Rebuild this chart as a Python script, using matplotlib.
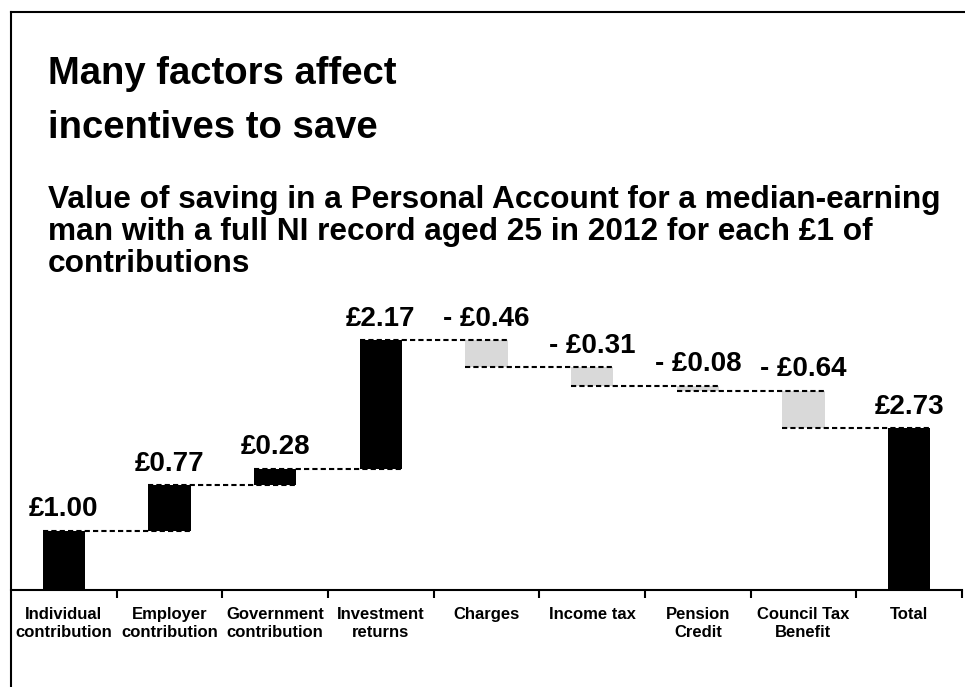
import matplotlib
matplotlib.use("Agg")
import matplotlib.pyplot as plt
from matplotlib.lines import Line2D

plt.rcParams['font.family'] = ['Liberation Sans', 'DejaVu Sans']
plt.rcParams['font.weight'] = 'bold'

# Waterfall components (GBP per £1 contributed)
categories = ["Individual\ncontribution", "Employer\ncontribution", "Government\ncontribution",
              "Investment\nreturns", "Charges", "Income tax", "Pension\nCredit",
              "Council Tax\nBenefit", "Total"]
changes = [1.00, 0.77, 0.28, 2.17, -0.46, -0.31, -0.08, -0.64]
total = 2.73
labels = ["£1.00", "£0.77", "£0.28", "£2.17", "- £0.46", "- £0.31", "- £0.08", "- £0.64", "£2.73"]

title_lines = ["Many factors affect", "incentives to save"]
subtitle_lines = ["Value of saving in a Personal Account for a median-earning",
                  "man with a full NI record aged 25 in 2012 for each £1 of",
                  "contributions"]

W, H = 965, 687
fig = plt.figure(figsize=(W / 100, H / 100), dpi=100)

# slide frame (top and left edges only)
fig.add_artist(Line2D([11 / W, 1], [1 - 12 / H, 1 - 12 / H], color='black', lw=1.5))
fig.add_artist(Line2D([11 / W, 11 / W], [0, 1 - 12 / H], color='black', lw=1.5))

# heading and subheading, one baseline per line
for j, line in enumerate(title_lines):
    fig.text(48 / W, 1 - (84 + 54 * j) / H, line, fontsize=27.5,
             fontweight='bold', va='baseline', ha='left')
for j, line in enumerate(subtitle_lines):
    fig.text(48 / W, 1 - (208 + 32 * j) / H, line, fontsize=22.8,
             fontweight='bold', va='baseline', ha='left')

ax = fig.add_axes([11 / W, 97 / H, 951 / W, 290 / H])

# running totals for bar bottoms
bottoms, heights, colors = [], [], []
level = 0.0
for c in changes:
    if c >= 0:
        bottoms.append(level)
        heights.append(c)
        colors.append('black')
    else:
        bottoms.append(level + c)
        heights.append(-c)
        colors.append('#d9d9d9')
    level += c
bottoms.append(0)
heights.append(total)
colors.append('black')

x = list(range(len(categories)))
bw = 0.4
ax.bar(x, heights, bottom=bottoms, width=bw, color=colors, zorder=2)

# dashed connectors between consecutive bars
level = 0.0
for i, c in enumerate(changes):
    level += c
    ax.plot([i - bw / 2, i + 1 + bw / 2], [level, level], color='black', lw=1.5,
            ls=(0, (2.5, 1.5)), zorder=3)

# value labels above each bar
for i, lab in enumerate(labels):
    top = bottoms[i] + heights[i]
    ax.annotate(lab, (i, top), xytext=(0, 6), textcoords='offset points',
                ha='center', va='bottom', fontsize=20, fontweight='bold')

ax.set_xlim(-0.5, len(categories) - 0.5)
ax.set_ylim(0, 4.9)
ax.set_xticks(x)
ax.set_xticklabels(categories, fontsize=12, fontweight='bold', linespacing=1.25)
ax.set_xticks([i + 0.5 for i in x], minor=True)
ax.tick_params(axis='x', which='major', length=0, pad=12)
ax.tick_params(axis='x', which='minor', length=6, width=1.5, direction='out')
ax.set_yticks([])
for side in ['top', 'right', 'left']:
    ax.spines[side].set_visible(False)
ax.spines['bottom'].set_linewidth(1.5)
ax.patch.set_visible(False)

fig.savefig("out.png", dpi=100)
